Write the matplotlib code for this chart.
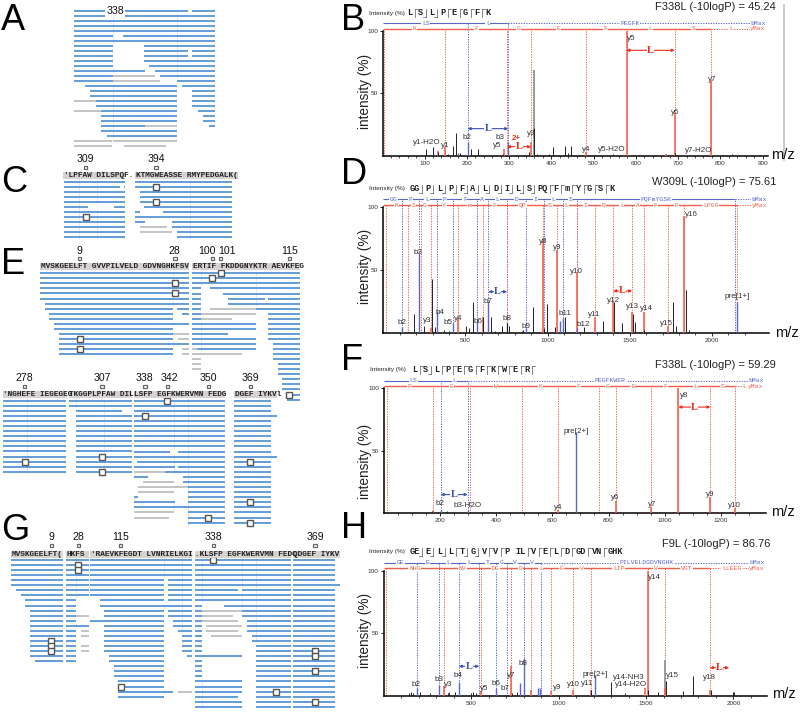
import matplotlib
matplotlib.use('Agg')
import matplotlib.pyplot as plt

W, H = 800, 712
SANS = 'Liberation Sans'
MONO = 'Liberation Mono'
BLUE_READ = '#4f90d4'
GRAY_READ = '#bcbcbc'
RED = '#f2604c'
BLUE = '#5a66c8'
TXT = '#333333'

# ---------- alignment reads: one list of (start, end) spans per row ----------
A_READS = [[(221, 565), (577, 645)]] + [[(221, 645)]] * 4 + [
    [(221, 340), (370, 645)], [(221, 645)], [(221, 338), (432, 645)],
    [(221, 338), (432, 565), (577, 645)], [(221, 338), (432, 565), (577, 645)],
    [(221, 338), (432, 645)], [(221, 338), (448, 645)], [(221, 434), (465, 645)],
    [(221, 338), (480, 645)], [(221, 338), (531, 645)], [(255, 531), (547, 645)],
    [(271, 531), (577, 645)], [(271, 531), (577, 645)], [(287, 531), (577, 645)],
    [(287, 531), (577, 645)], [(303, 531), (593, 645)], [(303, 531), (610, 645)],
    [(303, 531), (610, 645)], [(303, 434), (627, 645)], [(303, 531)], [(320, 531)],
    [], []]
A_GRAY = [(13, 338, 465), (14, 338, 480), (18, 221, 287), (20, 221, 303), (23, 434, 531),
          (26, 221, 336), (26, 338, 531), (27, 221, 336), (27, 371, 497)]

C1_READS = [[(191, 375)], [(191, 360), (372, 375)], [(191, 375)], [(191, 375)], [(191, 375)],
            [(191, 265), (343, 375)]] + [[(191, 375)]] * 6
C2_READS = [[(406, 695)], [(406, 695)], [(419, 695)], [(419, 695)], [(419, 695)], [(433, 695)],
            [(406, 420), (488, 695)], [(406, 695)], [(406, 434), (517, 695)],
            [(517, 695)], [(530, 695)], [(530, 695)]]
C2_GRAY = [(9, 421, 502), (10, 421, 515)]

E1_READS = [[(121, 567)]] * 6 + [
    [(135, 567)], [(135, 519), (532, 567)], [(148, 519), (546, 567)], [(148, 519)],
    [(163, 567)], [(163, 519)], [(176, 519)], [(176, 519)], [(176, 567)], [(176, 519)], [(176, 519)]]
E1_GRAY = [(12, 519, 567), (13, 533, 567), (15, 547, 567), (16, 547, 567)]
E2_READS = [[(577, 900)]] * 3 + [
    [(577, 603), (630, 900)], [(577, 603), (669, 900)], [(577, 603), (683, 795), (805, 900)],
    [(577, 603), (683, 900)], [(577, 603), (767, 900)], [(577, 603), (805, 900)],
    [(577, 603), (805, 900)], [(577, 767), (805, 900)], [(577, 767), (805, 900)],
    [(577, 683), (805, 900)], [(577, 767), (805, 900)], [(577, 767), (819, 900)],
    [(590, 767), (819, 900)], [(819, 900)], [(819, 900)], [(833, 900)], [(833, 900)], [(833, 900)],
    [(847, 900)], [(847, 900)], [(847, 900)], [(861, 900)], [(861, 900)]]
E2_GRAY = [(7, 631, 767), (8, 603, 767), (9, 603, 695), (15, 577, 590), (16, 577, 725),
           (17, 577, 603), (18, 577, 603), (19, 577, 603)]
E3_READS = [[(9, 199)]] * 15
E4_READS = [[(207, 397)]] * 2 + [[(229, 367)]] + [[(229, 397)]] * 12
E5_READS = [[(402, 676)]] * 10 + [
    [(402, 510), (535, 676)], [(402, 676)], [(412, 676)], [(402, 524), (535, 676)], [(494, 676)],
    [(402, 443), (550, 676)], [(550, 676)], [(564, 676)], [(564, 676)], [(402, 414), (564, 676)],
    [(402, 524), (564, 676)], [(402, 676)], [(564, 676)], [(564, 676)], [(564, 676)]]
E5_GRAY = [(14, 402, 494), (16, 429, 522), (17, 415, 564), (18, 415, 522), (22, 402, 522), (23, 402, 508)]
E6_READS = [[(703, 812)]] * 3 + [[(703, 831)]] + [[(703, 812)]] * 7 + [[(703, 831)]] + [[(703, 812)]] * 13

G1_READS = [[(34, 189)]] * 6 + [[(48, 189)], [(62, 189)], [(76, 189)], [(76, 189)]] + \
    [[(90, 189)]] * 10 + [[(104, 189)]]
G2_READS = [[(198, 267)]] * 8 + [[(198, 229)]] * 5 + [[(198, 267)]] + [[(198, 229)]] * 7
G2_GRAY = [(11, 229, 267), (14, 243, 267), (15, 243, 267), (17, 243, 267), (18, 243, 267)]
G3_READS = [[(271, 576)]] * 4 + [[(271, 492), (505, 576)]] * 4 + [
    [(299, 492), (505, 576)], [(299, 576)], [(313, 492), (505, 576)], [(313, 492), (505, 576)],
    [(271, 492), (519, 576)], [(313, 492), (519, 576)], [(313, 492), (533, 576)],
    [(313, 492), (547, 576)], [(313, 492), (547, 576)], [(313, 492), (547, 576)],
    [(313, 492), (547, 576)], [(327, 492), (561, 576)], [(327, 492)], [(341, 492)], [(341, 492)],
    [(341, 492)], [(355, 492)], [(355, 492)], [(355, 520)], [(355, 492)]]
G3_GRAY = [(26, 534, 576)]
G4_READS = [[(585, 872)]] * 6 + [[(585, 715), (727, 872)], [(585, 872)], [(585, 872)], [(585, 605), (671, 872)],
            [(585, 605), (727, 872)], [(585, 605), (727, 872)], [(585, 605), (741, 872)],
            [(585, 605), (741, 872)], [(585, 605), (741, 872)], [(585, 605), (755, 872)],
            [(585, 605), (755, 872)], [(585, 605), (769, 872)], [(585, 605), (769, 872)],
            [(585, 727), (769, 872)], [(585, 605), (769, 872)], [(585, 605), (769, 872)],
            [(585, 605), (769, 872)], [(585, 605), (769, 872)], [(585, 727), (769, 872)],
            [(585, 727), (769, 872)], [(585, 727), (769, 872)], [(585, 714), (769, 872)],
            [(585, 727), (769, 872)], [(585, 727), (769, 872)]]
G4_GRAY = [(10, 605, 727), (11, 605, 699), (12, 605, 714), (13, 619, 727), (14, 619, 714), (15, 633, 727)]
G5_READS = [[(879, 1005)]] * 5 + [[(879, 1020)]] + [[(879, 1005)]] * 24

# ---------- spectra: m/z and intensity (%) ----------
B_B_IONS = [202, 298]
B_Y_IONS = [5, 148, 295, 352, 481, 578, 692, 779]
B_RED_MZ = [148, 289, 352, 481, 578, 692, 779, 131, 672]
B_RED_INT = [7, 5, 11, 3, 100, 34, 60, 4, 1.5]
B_BLUE_MZ = [202, 298, 180]
B_BLUE_INT = [11, 11, 2]
B_PEAK_MZ = [103, 120, 131, 156, 168, 174, 184, 210, 227, 286, 346, 360, 367, 395, 405, 432, 440, 447, 547, 693, 828]
B_PEAK_INT = [5, 7, 3, 1.5, 8, 18, 2, 5, 5, 1.5, 3, 22, 1.5, 1.5, 7, 8, 2, 8, 1.5, 2, 1.5]
B_GRAY_MZ = [360]
B_GRAY_INT = [69]
B_LABELS = [('y1-H2O', 105, 10.4), ('y1', 149, 8), ('b2', 201, 14.4), ('b3', 278, 14.7), ('y5', 272, 8),
            ('y3', 352, 18), ('y4', 482, 5.3), ('y5-H2O', 544, 5.3), ('y7-H2O', 748, 4.5),
            ('y5', 590, 94), ('y6', 693, 35), ('y7', 780, 61)]
B_B_ROW = [('LS', 103), ('L', 250), ('PEGFK', 586)]
B_Y_ROW = [('K', 77), ('F', 222), ('G', 323), ('E', 416), ('F', 528), ('L', 634), ('S', 736), ('L', 825)]

D_B_IONS = [116, 217, 327, 422, 572, 639, 753, 871, 978, 1092, 1181, 2141]
D_Y_IONS = [14, 148, 229, 292, 454, 605, 753, 974, 1059, 1177, 1287, 1400, 1514, 1587, 1735, 1829, 2155]
D_RED_MZ = [454, 605, 974, 1059, 1177, 1287, 1400, 1514, 1587, 1735, 1829, 292]
D_RED_INT = [12, 13, 73, 66, 48, 13, 25, 17, 17, 6, 93, 4]
D_BLUE_MZ = [116, 217, 327, 422, 572, 639, 753, 871, 1075, 1092, 1181, 2155]
D_BLUE_INT = [5, 63, 18, 8, 10, 26, 8, 4, 10, 12, 4, 25]
D_PEAK_MZ = [187, 246, 298, 313, 371, 398, 503, 524, 546, 609, 656, 682, 725, 767, 842, 852, 909, 980, 995,
             1045, 1106, 1224, 1336, 1405, 1453, 1518, 1530, 1587, 1766, 1780, 1845, 1861, 753]
D_PEAK_INT = [15, 6, 43, 5, 3, 2, 6, 4, 25, 13, 13, 2, 6, 6, 2, 3, 21, 4, 23,
              5, 13, 5, 10, 25, 8, 15, 9, 3, 25, 6, 34, 3, 8]
D_LABELS = [('b2', 114, 8.5), ('b3', 213, 64), ('y3', 270, 10), ('b4', 345, 16.4), ('b5', 396, 8.7),
            ('y4', 457, 11.6), ('b6', 576, 9.3), ('b7', 637, 25), ('b8', 753, 11.6), ('b9', 869, 5.6),
            ('y8', 976, 73), ('y9', 1061, 68), ('b11', 1106, 16), ('y10', 1175, 49), ('b12', 1220, 6.6),
            ('y11', 1285, 15), ('y12', 1400, 26), ('y13', 1514, 21), ('y14', 1601, 20), ('y15', 1721, 8),
            ('y16', 1875, 94), ('pre[1+]', 2157, 29)]
D_B_ROW = [('GG', 61), ('P', 164), ('L', 266), ('P', 375), ('F', 497), ('A', 603), ('L', 696), ('D', 812),
           ('I', 927), ('L', 1035), ('S', 1139), ('PQFmYGSK', 1658)]
D_Y_ROW = [('K', 81), ('S', 183), ('G', 254), ('Y', 371), ('m', 526), ('F', 674), ('QP', 848), ('S', 1015),
           ('L', 1114), ('I', 1228), ('D', 1340), ('L', 1453), ('A', 1549), ('F', 1658), ('P', 1784), ('LPGG', 1993)]

F_B_IONS = [202, 298]
F_Y_IONS = [10, 176, 306, 492, 619, 767, 825, 953, 1049, 1163, 1249]
F_RED_MZ = [1049, 1163, 825, 953, 619, 1249, 176]
F_RED_INT = [100, 13, 10, 5, 3, 4, 2]
F_BLUE_MZ = [683, 202, 298]
F_BLUE_INT = [65, 3, 3]
F_PEAK_MZ = [170, 225, 505, 540, 575, 1030]
F_PEAK_INT = [1.5, 1.5, 1, 1, 1, 1]
F_LABELS = [('b2', 200, 7.5), ('b3-H2O', 297, 6.4), ('y4', 621, 4.8), ('pre[2+]', 686, 65.6), ('y6', 825, 12.5),
            ('y7', 954, 6.7), ('y8', 1068, 94), ('y9', 1164, 15), ('y10', 1250, 6)]
F_B_ROW = [('LS', 104), ('L', 251), ('PEGFKWER', 807)]
F_Y_ROW = [('R', 92), ('E', 240), ('W', 398), ('K', 556), ('F', 694), ('G', 795), ('E', 887), ('F', 1002),
           ('L', 1109), ('S', 1207), ('L', 1283)]

H_B_IONS = [189, 317, 430, 546, 643, 704, 801, 902]
H_Y_IONS = [12, 342, 554, 729, 843, 956, 1085, 1183, 1509, 1608, 1865]
H_RED_MZ = [342, 554, 729, 843, 956, 1085, 1183, 1509, 1493, 1865, 1608]
H_RED_INT = [8, 4, 24, 5, 4, 5, 5, 100, 6, 5, 6]
H_BLUE_MZ = [189, 317, 430, 643, 801, 780, 880, 893, 1209]
H_BLUE_INT = [6, 9, 11, 6, 30, 10, 6, 6, 17]
H_PEAK_MZ = [142, 155, 167, 210, 262, 365, 375, 410, 500, 510, 528, 733, 760, 1183, 1299, 1381, 1514, 1568, 1613,
             1709, 1766, 1870, 1995, 2005]
H_PEAK_INT = [2, 3, 2, 3, 2, 2, 3, 3, 2, 3, 2, 2, 3, 5, 11, 2, 5, 3, 12, 4, 16, 5, 3, 3]
H_GRAY_MZ = [1608]
H_GRAY_INT = [29]
H_LABELS = [('b2', 187, 8.8), ('b3', 314, 13), ('y3', 369, 9.3), ('b4', 426, 16), ('y5', 573, 5.6), ('b6', 641, 9.6),
            ('b7', 695, 5.6), ('y7', 731, 16.5), ('b8', 797, 26), ('y9', 994, 6.6), ('y10', 1085, 8.8),
            ('y11', 1165, 9.8), ('pre[2+]', 1209, 17.5), ('y14-NH3', 1402, 15), ('y14-H2O', 1415, 9),
            ('y14', 1548, 94.4), ('y15', 1651, 16.5), ('y18', 1865, 15)]
H_B_ROW = [('GE', 96), ('E', 252), ('L', 370), ('L', 487), ('T', 595), ('G', 673), ('V', 752), ('V', 849),
           ('PILVELDGDVNGHK', 1505)]
H_Y_ROW = [('NHG', 178), ('NV', 449), ('DG', 639), ('D', 784), ('L', 898), ('E', 1019), ('V', 1133), ('LIP', 1344),
           ('V', 1556), ('VGT', 1733), ('LLEEG', 1990)]

fig = plt.figure(figsize=(W / 100, H / 100), dpi=100)
plt.rcParams['font.family'] = SANS


def px_text(x, y, s, **kw):
    kw.setdefault('family', SANS)
    kw.setdefault('ha', 'center')
    kw.setdefault('va', 'center')
    fig.text(x / W, 1 - y / H, s, **kw)


def draw_block(x0, x1, y_first, row_h, reads, gray=(), marks=(), guides=()):
    # x in 1/3 px units, one row per read line
    n = len(reads)
    top = y_first - row_h / 2
    ax = fig.add_axes([x0 / 3 / W, 1 - (top + n * row_h) / H, (x1 - x0) / 3 / W, n * row_h / H])
    ax.set_xlim(x0, x1)
    ax.set_ylim(n - 0.5, -0.5)
    ax.axis('off')
    for i, spans in enumerate(reads):
        for a, b in spans:
            ax.hlines(i, a, b, color=BLUE_READ, lw=1.25, zorder=2)
            # faint column ticks only where a read covers them
            for gx in guides:
                if a < gx < b:
                    ax.vlines(gx, i - 0.5, i + 0.5, color='#cfe0f2', lw=0.5, zorder=1)
    for r, a, b in gray:
        ax.hlines(r, a, b, color=GRAY_READ, lw=1.25, zorder=2)
    for r, mx in marks:
        ax.plot(mx, r, 's', ms=3.7, mfc='white', mec='#555555', mew=1.0, zorder=3, clip_on=False)
    return ax


def draw_header(x0, x1, y, seq, labels, label_y=None):
    # sequence band with the residue numbers above it
    fig.patches.append(plt.Rectangle((x0 / 3 / W, 1 - (y + 3.5) / H), (x1 - x0) / 3 / W, 7 / H,
                                     transform=fig.transFigure, fc='#d6d2d2', ec='none'))
    px_text(x0 / 3 + 0.3, y, seq, family=MONO, weight='bold', fontsize=5.6, ha='left', color='#222222')
    for s, lx, mx in labels:
        px_text(lx / 3, y - 16.5, s, fontsize=7.6, color='#111111')
        fig.add_artist(plt.Rectangle((mx / 3 / W - 1.6 / W, 1 - (y - 6.8) / H), 3.2 / W, 3.2 / H,
                                     transform=fig.transFigure, fc='white', ec='#666666', lw=0.9))


def spectrum(left, right, top, base, xlim, major, minor, b_ions, y_ions, red_mz, red_int, blue_mz, blue_int,
             peak_mz, peak_int, labels, b_row, y_row, b_end, y_end, gray_mz=(), gray_int=()):
    ax = fig.add_axes([left / W, 1 - base / H, (right - left) / W, (base - top) / H])
    ax.patch.set_alpha(0)
    ax.set_xlim(*xlim)
    ax.set_ylim(0, 100)
    for s in ['top', 'right']:
        ax.spines[s].set_visible(False)
    ax.spines['left'].set_linewidth(1.1)
    ax.spines['bottom'].set_linewidth(1.1)
    ax.set_xticks(major)
    ax.set_xticks(minor, minor=True)
    ax.set_yticks([50, 100])
    ax.tick_params(axis='both', which='major', labelsize=4.6, length=2, width=0.6, pad=1.5, labelcolor='#333333')
    ax.tick_params(axis='x', which='minor', length=1.2, width=0.5)
    ymax = 106.2
    yrow = 101.8
    dots = (0, (1.3, 1.3))
    ax.vlines(b_ions, 0, ymax, color=BLUE, lw=0.7, linestyles=[dots], clip_on=False, zorder=2)
    ax.vlines(y_ions, 0, yrow, color=RED, lw=0.7, linestyles=[dots], clip_on=False, zorder=2)
    ax.vlines(gray_mz, 0, gray_int, color='#9a9a9a', lw=1.4, zorder=3)
    ax.vlines(red_mz, 0, red_int, color=RED, lw=1.15, zorder=3)
    ax.vlines(blue_mz, 0, blue_int, color=BLUE, lw=1.0, zorder=3)
    ax.vlines(peak_mz, 0, peak_int, color='#222222', lw=0.7, zorder=4)
    ax.hlines(ymax, xlim[0], b_end, color=BLUE, lw=0.8, clip_on=False)
    ax.hlines(ymax, b_end, xlim[1] * 0.99, color=BLUE, lw=0.7, linestyles=[dots], clip_on=False)
    ax.hlines(yrow, xlim[0], y_end, color=RED, lw=1.0, clip_on=False)
    ax.hlines(yrow, y_end, xlim[1] * 0.99, color=RED, lw=0.7, linestyles=[dots], clip_on=False)
    for s, mz in b_row:
        ax.text(mz, ymax, s, family=MONO, fontsize=4.6, color=BLUE, ha='center', va='center',
                bbox=dict(fc='white', ec='none', pad=0.4), zorder=6)
    for s, mz in y_row:
        ax.text(mz, yrow, s, family=MONO, fontsize=4.6, color=RED, ha='center', va='center',
                bbox=dict(fc='white', ec='none', pad=0.4), zorder=6)
    ax.text(xlim[1] * 0.995, ymax, 'bMax', family=MONO, fontsize=4.6, color=BLUE, ha='right', va='center',
            bbox=dict(fc='white', ec='none', pad=0.3), zorder=6)
    ax.text(xlim[1] * 0.995, yrow, 'yMax', family=MONO, fontsize=4.6, color=RED, ha='right', va='center',
            bbox=dict(fc='white', ec='none', pad=0.3), zorder=6)
    for s, mz, i in labels:
        ax.text(mz, i, s, fontsize=5.8, color=TXT, ha='center', va='center', zorder=7)
    return ax


def l_arrow(ax, a, b, y, color, text='L'):
    ax.annotate('', xy=(a, y), xytext=(b, y), arrowprops=dict(arrowstyle='<|-|>', color=color, lw=0.8,
                                                              mutation_scale=4, shrinkA=0, shrinkB=0), zorder=8)
    ax.text((a + b) / 2, y, text, family='Liberation Serif', weight='bold', fontsize=7.5, color=color,
            ha='center', va='center', bbox=dict(fc='white', ec='none', pad=0.2), zorder=9)


def sequence(x, y, residues, hooks):
    # peptide string with b (bottom) / y (top) fragment hooks
    for i, r in enumerate(residues):
        px_text(x, y, r, family=MONO, weight='bold', fontsize=6.2, ha='left', color='#222222')
        x += len(r) * 4.5
        if i < len(hooks):
            g = hooks[i]
            if g != 'n':
                fx = x + 3.2
                fig.add_artist(plt.Line2D([fx / W, fx / W], [1 - (y - 4) / H, 1 - (y + 4) / H],
                                          color='#555555', lw=0.5, transform=fig.transFigure))
                hy = y - 4 if g == 't' else y + 4
                hx = fx + 3 if g == 't' else fx - 3
                fig.add_artist(plt.Line2D([fx / W, hx / W], [1 - hy / H, 1 - hy / H],
                                          color='#555555', lw=0.5, transform=fig.transFigure))
            x += 6.7


# ---------- alignment panels ----------
draw_block(221, 645, 11, 4.99, A_READS, A_GRAY, guides=[338, 531])
px_text(115, 11, '338', fontsize=7.6, color='#111111', bbox=dict(fc='white', ec='none', pad=0.5), zorder=5)

draw_block(191, 375, 181.7, 5.0, C1_READS, marks=[(7, 257)], guides=[237, 290])
draw_block(406, 695, 181.7, 5.0, C2_READS, C2_GRAY, marks=[(1, 468), (4, 468)], guides=[570])
draw_header(190, 375, 175.8, "'LPFAW DILSPQF.", [('309', 257, 257)])
draw_header(406, 715, 175.8, 'KTMGWEASSE RMYPEDGALK(', [('394', 470, 468)])

draw_block(121, 567, 273.3, 5.05, E1_READS, E1_GRAY, marks=[(2, 525), (4, 525), (13, 239), (15, 239)], guides=[519])
draw_block(577, 900, 273.3, 5.05, E2_READS, E2_GRAY, marks=[(0, 662), (1, 637), (24, 868)], guides=[603, 767])
draw_header(121, 567, 267, 'MVSKGEELFT GVVPILVELD GDVNGHKFSV', [('9', 238, 239), ('28', 524, 525)])
draw_header(577, 900, 267, 'ERTIF FKDDGNYKTR AEVKFEG', [('100', 620, 637), ('101', 682, 662), ('115', 868, 868)])

draw_block(9, 199, 400.7, 5.08, E3_READS, marks=[(12, 74)], guides=[81])
draw_block(207, 397, 400.7, 5.08, E4_READS, marks=[(11, 306), (14, 306)], guides=[229, 313])
draw_block(402, 676, 400.7, 5.08, E5_READS, E5_GRAY, marks=[(0, 502), (3, 435), (23, 625)], guides=[523, 565])
draw_block(703, 831, 400.7, 5.08, E6_READS, marks=[(12, 751), (20, 751), (24, 751)], guides=[812])
draw_header(9, 200, 394.7, "'NGHEFE IEGEGEG", [('278', 73, 74)])
draw_header(207, 397, 394.7, 'TKGGPLPFAW DIL', [('307', 306, 306)])
draw_header(402, 676, 394.7, 'LSFP EGFKWERVMN FEDG', [('338', 434, 435), ('342', 508, 502), ('350', 625, 625)])
draw_header(703, 831, 394.7, 'DGEF IYKVl', [('369', 752, 751)])

draw_block(34, 189, 560, 5.06, G1_READS, marks=[(16, 154), (17, 154), (18, 154)])
draw_block(198, 267, 560, 5.06, G2_READS, G2_GRAY, marks=[(1, 235), (2, 235)], guides=[229])
draw_block(271, 576, 560, 5.06, G3_READS, G3_GRAY, marks=[(25, 362)], guides=[492, 547])
draw_block(585, 872, 560, 5.06, G4_READS, G4_GRAY, marks=[(0, 640), (26, 829)], guides=[605, 727, 769])
draw_block(879, 1020, 560, 5.06, G5_READS, marks=[(18, 945), (19, 945), (22, 945), (28, 945)], guides=[1005])
draw_header(34, 189, 554, 'MVSKGEELFT(', [('9', 154, 154)])
draw_header(198, 267, 554, 'HKFS', [('28', 235, 235)])
draw_header(271, 576, 554, "'RAEVKFEGDT LVNRIELKGI", [('115', 362, 362)])
draw_header(585, 872, 554, '.KLSFP EGFKWERVMN FEDC', [('338', 640, 640)])
draw_header(879, 1020, 554, 'QDGEF IYKV', [('369', 945, 945)])

# ---------- spectra ----------
ax_b = spectrum(383.3, 767.7, 31, 155.7, (2.4, 912), list(range(100, 1000, 100)), list(range(20, 920, 20)),
                B_B_IONS, B_Y_IONS, B_RED_MZ, B_RED_INT, B_BLUE_MZ, B_BLUE_INT, B_PEAK_MZ, B_PEAK_INT,
                B_LABELS, B_B_ROW, B_Y_ROW, 298, 779, B_GRAY_MZ, B_GRAY_INT)
l_arrow(ax_b, 578, 692, 84.5, '#ee2b1c')
l_arrow(ax_b, 202, 298, 21.7, '#3c50b8')
l_arrow(ax_b, 295, 352, 7.2, '#ee2b1c')
ax_b.text(316, 13.4, '2+', fontsize=5.6, weight='bold', color='#ee2b1c', ha='center', va='center')

ax_d = spectrum(383.3, 769, 207.3, 333.3, (0, 2348), [500, 1000, 1500, 2000], list(range(100, 2300, 100)),
                D_B_IONS, D_Y_IONS, D_RED_MZ, D_RED_INT, D_BLUE_MZ, D_BLUE_INT, D_PEAK_MZ, D_PEAK_INT,
                D_LABELS, D_B_ROW, D_Y_ROW, 2141, 2155)
l_arrow(ax_d, 639, 753, 33, '#3c50b8')
l_arrow(ax_d, 1400, 1514, 33.6, '#ee2b1c')

ax_f = spectrum(384, 765.7, 388.3, 513.3, (0, 1360), list(range(200, 1400, 200)), list(range(50, 1350, 50)),
                F_B_IONS, F_Y_IONS, F_RED_MZ, F_RED_INT, F_BLUE_MZ, F_BLUE_INT, F_PEAK_MZ, F_PEAK_INT,
                F_LABELS, F_B_ROW, F_Y_ROW, 298, 1249)
l_arrow(ax_f, 202, 298, 15, '#3c50b8')
l_arrow(ax_f, 1049, 1163, 85, '#ee2b1c')

ax_h = spectrum(383.7, 766.7, 570.7, 696, (0, 2190), [500, 1000, 1500, 2000], list(range(100, 2200, 100)),
                H_B_IONS, H_Y_IONS, H_RED_MZ, H_RED_INT, H_BLUE_MZ, H_BLUE_INT, H_PEAK_MZ, H_PEAK_INT,
                H_LABELS, H_B_ROW, H_Y_ROW, 902, 1865, H_GRAY_MZ, H_GRAY_INT)
l_arrow(ax_h, 430, 546, 23.7, '#3c50b8')
l_arrow(ax_h, 1865, 1975, 22.6, '#ee2b1c')

# titles, axis words, peptide strings
for s, x, y in [('F338L (-10logP) = 45.24', 775.7, 7), ('W309L (-10logP) = 75.61', 776.7, 181.7),
                ('F338L (-10logP) = 59.29', 775.7, 364.7), ('F9L (-10logP) = 86.76', 770, 544)]:
    px_text(x, y, s, ha='right', fontsize=8, color='#222222')
for y in [91, 266, 461, 630]:
    px_text(364.5, y, 'intensity (%)', rotation=90, fontsize=9.8, color='#222222')
for x, y in [(783, 155), (787, 333), (783, 512), (784, 694)]:
    px_text(x, y, 'm/z', fontsize=10.5, color='#111111')
for x, y in [(386.5, 13.5), (387, 188.5), (388, 370), (387, 552)]:
    px_text(x, y, 'Intensity (%)', fontsize=4.6, ha='center', color='#222222')

sequence(407, 12.5, ['L', 'S', 'L', 'P', 'E', 'G', 'F', 'K'], 'tbbtttt')
sequence(410, 188.5, ['GG', 'P', 'L', 'P', 'F', 'A', 'L', 'D', 'I', 'L', 'S', 'PQ', 'F', 'm', 'Y', 'G', 'S', 'K'],
         'bbbbbbbbbbbttttttt'[:17])
sequence(412, 369.5, ['L', 'S', 'L', 'P', 'E', 'G', 'F', 'K', 'W', 'E', 'R'], 'tbttttttt t'.replace(' ', 't'))
sequence(410, 552, ['GE', 'E', 'L', 'L', 'T', 'G', 'V', 'V', 'P', 'IL', 'V', 'E', 'L', 'D', 'GD', 'VN', 'GHK'],
         'bbbtbbttnttttttt')

fig.add_artist(plt.Line2D([784 / W, 784 / W], [1 - 5 / H, 1 - 160 / H], color='#c4c4c4', lw=1.2,
                          transform=fig.transFigure))

for s, x, y in [('A', 1, 21), ('B', 341, 21), ('C', 1, 182), ('D', 341, 174),
                ('E', 1, 265), ('F', 341, 360), ('G', 1, 530), ('H', 341, 529)]:
    px_text(x, y, s, fontsize=26, ha='left', color='black')

fig.savefig('out.png', dpi=100)
